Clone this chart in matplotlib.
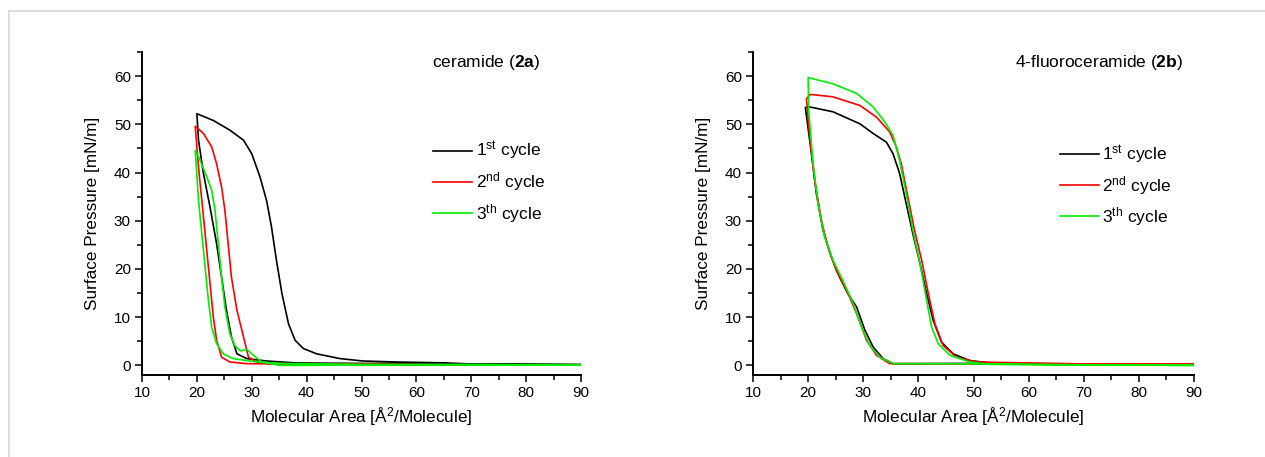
import matplotlib
matplotlib.use("Agg")
import matplotlib.pyplot as plt
from matplotlib.lines import Line2D
from matplotlib.ticker import MultipleLocator

plt.rcParams['font.family'] = ['Liberation Sans', 'DejaVu Sans']
plt.rcParams['mathtext.fontset'] = 'custom'
plt.rcParams['mathtext.rm'] = 'Liberation Sans'
plt.rcParams['mathtext.it'] = 'Liberation Sans:italic'
plt.rcParams['mathtext.bf'] = 'Liberation Sans:bold'

# ceramide (2a): compression (right branch) then expansion (left branch)
cer1_x = [90, 80, 71.6, 65.5, 56.4, 50.3, 46.1, 41.8, 39.4, 37.9, 36.7, 35.5, 34.5, 33.6, 32.7, 31.5, 30.0, 28.5,
          26.0, 23.0, 20.0,
          20.3, 21.2, 22.4, 23.6, 24.5, 25.4, 26.3, 27.3, 29.1, 32.7, 38.2, 50, 70, 90]
cer1_y = [0.1, 0.15, 0.2, 0.5, 0.7, 0.9, 1.4, 2.4, 3.5, 5.2, 8.6, 14.9, 21.8, 28.7, 34.2, 39.1, 43.9, 46.7,
          48.8, 50.8, 52.2,
          46.7, 39.8, 32.8, 25.2, 18.3, 11.4, 5.9, 2.4, 1.4, 0.9, 0.5, 0.4, 0.3, 0.2]
cer2_x = [90, 70, 50, 40, 33, 30.9, 29.4, 28.5, 27.3, 26.3, 25.7, 25.1, 24.5, 23.6, 22.7, 21.2, 19.7,
          20.3, 21.2, 22.1, 23.0, 23.6, 24.5, 26.0, 29.1, 35, 50, 70, 90]
cer2_y = [0.1, 0.1, 0.2, 0.3, 0.4, 0.7, 1.7, 5.9, 11.4, 18.3, 25.2, 32.2, 37.0, 41.8, 45.3, 48.1, 49.6,
          41.1, 30.8, 20.4, 10.0, 5.2, 1.7, 0.7, 0.35, 0.3, 0.2, 0.1, 0.1]
cer3_x = [90, 70, 50, 40, 35.1, 31.8, 30.3, 29.1, 27.9, 26.9, 26.0, 25.1, 24.5, 23.9, 23.3, 22.7, 21.8, 20.6, 19.7,
          20.3, 20.9, 21.5, 22.1, 22.7, 23.6, 24.8, 26.6, 30.3, 35.2, 50, 70, 90]
cer3_y = [0.1, 0.1, 0.1, 0.0, 0.0, 0.7, 2.1, 3.3, 3.0, 4.1, 6.6, 12.1, 18.3, 25.2, 32.2, 36.3, 39.1, 42.5, 44.6,
          34.2, 27.3, 20.4, 13.5, 7.9, 4.5, 2.4, 1.4, 0.8, 0.4, 0.2, 0.2, 0.1]

# 4-fluoroceramide (2b)
flu1_x = [90, 70, 60, 53.0, 49.3, 46.3, 44.2, 42.7, 41.5, 40.3, 39.0, 37.8, 36.6, 35.4, 34.2, 31.8, 29.4, 24.5,
          20.3, 19.5,
          20.6, 21.5, 22.7, 24.2, 25.7, 27.2, 28.8, 30.3, 31.8, 33.6, 35.4, 50, 70, 90]
flu1_y = [0.2, 0.2, 0.3, 0.5, 1.0, 2.4, 4.8, 9.3, 14.9, 21.1, 27.3, 33.5, 39.8, 43.9, 46.3, 48.1, 50.1, 52.6,
          53.6, 53.5,
          43.9, 35.6, 28.0, 22.5, 18.3, 14.9, 12.1, 7.3, 3.8, 1.4, 0.35, 0.4, 0.3, 0.2]
flu2_x = [90, 70, 50.5, 46.9, 44.5, 43.0, 41.8, 40.6, 39.3, 38.1, 36.9, 36.0, 34.8, 32.4, 29.4, 24.5, 20.4, 19.7,
          20.3, 21.2, 22.4, 23.6, 25.1, 27.0, 28.8, 30.6, 32.4, 34.8, 50, 70, 90]
flu2_y = [0.3, 0.3, 0.7, 1.7, 4.1, 8.6, 14.9, 21.8, 28.0, 34.9, 41.8, 45.3, 48.4, 51.5, 53.9, 55.7, 56.2, 55.3,
          47.4, 38.4, 30.1, 24.5, 19.7, 15.6, 10.7, 5.2, 2.1, 0.35, 0.3, 0.3, 0.3]
flu3_x = [90, 70, 53.0, 49.3, 45.7, 43.6, 42.4, 41.5, 40.3, 39.0, 37.8, 36.6, 35.4, 33.9, 31.8, 28.8, 24.5, 20.0,
          20.1, 20.9, 21.8, 23.0, 24.5, 26.3, 28.2, 29.7, 31.2, 33.0, 35.4, 50, 70, 90]
flu3_y = [0.0, 0.1, 0.2, 0.7, 2.1, 4.5, 7.9, 13.5, 21.1, 28.0, 35.6, 42.5, 47.7, 50.5, 53.6, 56.4, 58.4, 59.7,
          52.9, 41.8, 33.5, 26.6, 21.8, 17.6, 12.8, 7.9, 4.1, 1.7, 0.35, 0.3, 0.1, 0.0]

cycle_labels = [r'1$^{\rm st}$ cycle', r'2$^{\rm nd}$ cycle', r'3$^{\rm th}$ cycle']
cycle_colors = ['black', '#ff0000', '#00ee00']

fig = plt.figure(figsize=(12.65, 4.57), dpi=100)
# light frame lines along top and left edge
fig.add_artist(Line2D([9 / 1265, 1], [1 - 11 / 457, 1 - 11 / 457], color='#d8d8d8', lw=1.2))
fig.add_artist(Line2D([9 / 1265, 9 / 1265], [0, 1 - 11 / 457], color='#d8d8d8', lw=1.2))

ax1 = fig.add_axes([142 / 1265, 82 / 457, 439 / 1265, 323 / 457])
ax2 = fig.add_axes([753 / 1265, 82 / 457, 441 / 1265, 323 / 457])

panels = [
    (ax1, [(cer1_x, cer1_y), (cer2_x, cer2_y), (cer3_x, cer3_y)], r'ceramide ($\bf{2a}$)', 0.66, 0.663, 0.597),
    (ax2, [(flu1_x, flu1_y), (flu2_x, flu2_y), (flu3_x, flu3_y)], r'4-fluoroceramide ($\bf{2b}$)', 0.594, 0.696, 0.587),
]

for ax, series, title, tx, lx, ly in panels:
    for (xs, ys), c, lab in zip(series, cycle_colors, cycle_labels):
        ax.plot(xs, ys, color=c, lw=1.2, label=lab)
    ax.set_xlim(10, 90)
    ax.set_ylim(-2, 65)
    ax.xaxis.set_major_locator(MultipleLocator(10))
    ax.xaxis.set_minor_locator(MultipleLocator(5))
    ax.yaxis.set_major_locator(MultipleLocator(10))
    ax.yaxis.set_minor_locator(MultipleLocator(5))
    for s in ['top', 'right']:
        ax.spines[s].set_visible(False)
    for s in ['left', 'bottom']:
        ax.spines[s].set_linewidth(1.4)
    ax.tick_params(which='major', direction='out', length=5, width=1.1, labelsize=11, pad=3)
    ax.tick_params(which='minor', direction='out', length=3.5, width=1.1)
    ax.set_xlabel(r'Molecular Area [Å$^2$/Molecule]', fontsize=12.3, labelpad=4)
    ax.set_ylabel('Surface Pressure [mN/m]', fontsize=12.3, labelpad=10)
    ax.text(tx, 0.969, title, transform=ax.transAxes, fontsize=12.5, va='center', ha='left')
    ax.legend(loc='center left', bbox_to_anchor=(lx, ly), frameon=False, fontsize=12.5,
              handlelength=2.25, handletextpad=0.2, labelspacing=0.47, borderpad=0, borderaxespad=0)

fig.savefig('out.png', dpi=100)
